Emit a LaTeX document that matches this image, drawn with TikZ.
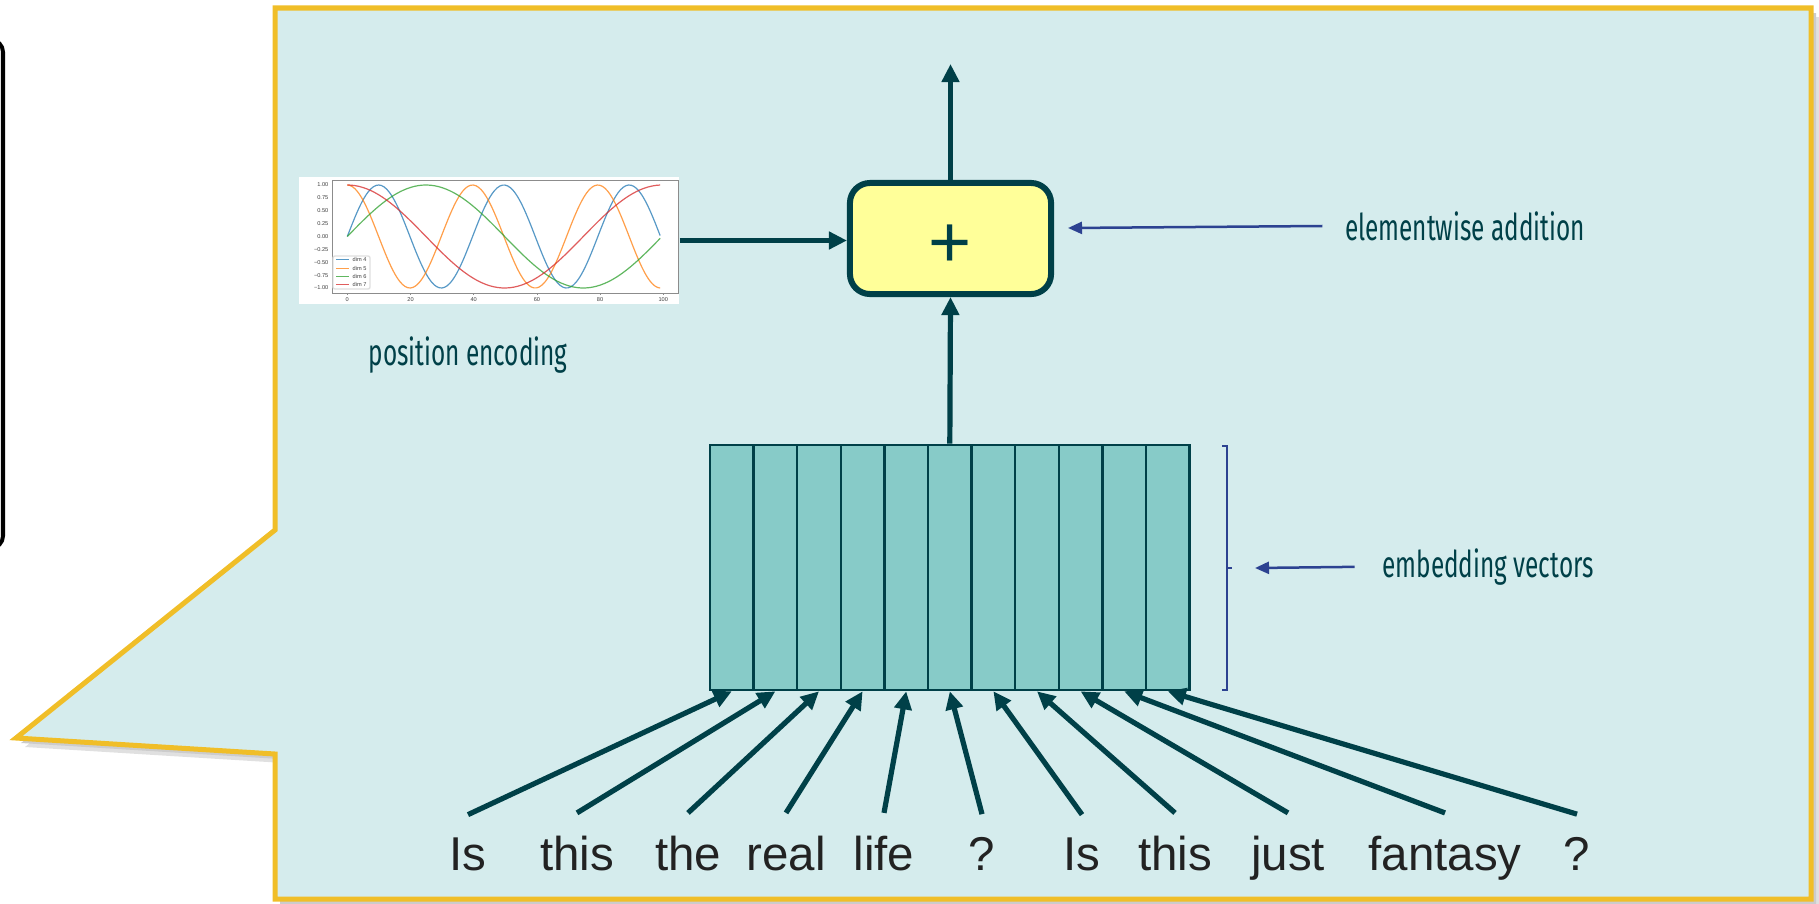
\documentclass[tikz,border=0pt]{standalone}
\usepackage{fontspec}
\setmainfont{Liberation Sans}
\newfontfamily\notefont[FakeStretch=0.66]{Fira Sans}
\usepackage{xcolor}
\definecolor{calloutbg}{RGB}{213,236,237}
\definecolor{calloutrim}{RGB}{240,190,40}
\definecolor{flowteal}{RGB}{0,64,72}
\definecolor{cellfill}{RGB}{135,203,200}
\definecolor{sumfill}{RGB}{255,255,153}
\definecolor{pointerblue}{RGB}{44,66,145}
\definecolor{wordgray}{RGB}{34,34,34}
\definecolor{mplblue}{RGB}{31,119,180}
\definecolor{mplorange}{RGB}{255,127,14}
\definecolor{mplgreen}{RGB}{44,160,44}
\definecolor{mplred}{RGB}{214,39,40}
\usepackage{tikz}
\usetikzlibrary{arrows.meta, positioning, calc}

\begin{document}
\begin{tikzpicture}[x=0.01cm, y=-0.01cm,
  flow/.style={draw=flowteal, line width=0.52mm, -{Triangle[length=1.8mm, width=1.7mm]}},
  pointer/.style={draw=pointerblue, line width=0.25mm, -{Triangle[length=1.4mm, width=1.2mm]}},
  cell/.style={draw=flowteal, line width=0.25mm, fill=cellfill, inner sep=0pt,
    minimum width=0.436cm, minimum height=2.45cm},
  sumbox/.style={draw=flowteal, line width=0.6mm, fill=sumfill, rounded corners=2mm,
    minimum width=2.01cm, minimum height=1.11cm},
  word/.style={font=\fontsize{13.5}{16}\selectfont, text=wordgray, anchor=base, inner sep=0pt},
  note/.style={font=\notefont\fontsize{10.5}{12}\selectfont, text=flowteal, anchor=base, inner sep=0pt},
  axlabel/.style={font=\fontsize{1.6}{2}\selectfont, text=black!75, inner sep=0pt},
  curve/.style={line width=0.12mm, opacity=0.75}]
  \useasboundingbox (0,0) rectangle (1819,903);

  % Frame cut off at the left edge
  \draw[line width=0.4mm, rounded corners=1.2mm] (-60,40) rectangle (3,548);

  % --- Callout ---
  \fill[black!12, shift={(9,9)}]
       (275,8) -- (1811,8) -- (1811,899) -- (275,899) -- (275,754) -- (16,738) -- (275,530) -- cycle;
  \fill[black!20, shift={(5,5)}]
       (275,8) -- (1811,8) -- (1811,899) -- (275,899) -- (275,754) -- (16,738) -- (275,530) -- cycle;
  \draw[fill=calloutbg, draw=calloutrim, line width=0.5mm]
       (275,8) -- (1811,8) -- (1811,899) -- (275,899) -- (275,754) -- (16,738) -- (275,530) -- cycle;

  % --- Position encoding plot ---
  \node[fill=white, inner sep=0pt, minimum width=3.8cm, minimum height=1.27cm] (peplot) at (489,240.5) {};
  \draw[black!45, line width=0.1mm] (332,180) rectangle (678,293);
  \foreach \v/\t in {1/1.00, 0.75/0.75, 0.5/0.50, 0.25/0.25, 0/0.00, -0.25/−0.25, -0.5/−0.50, -0.75/−0.75, -1/−1.00}
    \node[axlabel, anchor=east] at (329,{236.5-51.5*\v}) {\t};
  \foreach \v in {0,20,...,100} {
    \draw[black!45, line width=0.08mm] ({347.3+3.16*\v},293) -- ({347.3+3.16*\v},295);
    \node[axlabel] at ({347.3+3.16*\v},300) {\v};
  }
  \draw[curve, mplblue] plot[domain=0:99, samples=120, smooth] ({347.3+3.16*\x},{236.5-51.5*sin(\x/6.3096 r)});
  \draw[curve, mplorange] plot[domain=0:99, samples=120, smooth] ({347.3+3.16*\x},{236.5-51.5*cos(\x/6.3096 r)});
  \draw[curve, mplgreen] plot[domain=0:99, samples=80, smooth] ({347.3+3.16*\x},{236.5-51.5*sin(\x/15.849 r)});
  \draw[curve, mplred] plot[domain=0:99, samples=80, smooth] ({347.3+3.16*\x},{236.5-51.5*cos(\x/15.849 r)});
  % legend
  \draw[black!12, fill=white, rounded corners=0.2mm] (333,256) rectangle (370,289);
  \foreach \c/\t [count=\k] in {mplblue/dim 4, mplorange/dim 5, mplgreen/dim 6, mplred/dim 7} {
    \draw[curve, \c] (336,{251.5+8.3*\k}) -- (349,{251.5+8.3*\k});
    \node[axlabel, anchor=west] at (352,{251.5+8.3*\k}) {\t};
  }
  \node[note] (pelab) at (468,365) {position encoding};

  % --- Elementwise addition ---
  \node[sumbox] (sum) at (950.5,238.5) {};
  \node[font=\fontsize{21}{24}\selectfont, text=flowteal, inner sep=0pt] (plus) at (950.5,246) {+};
  \coordinate (out) at (950.5,64);
  \draw[flow] (sum.north) -- (out);
  \draw[flow] (peplot.east) -- (peplot.east -| sum.west);
  \node[note] (addlab) at (1465,240) {elementwise addition};
  \coordinate (addtip) at (1068,228);
  \draw[pointer, shorten <=2.2mm] (addlab.west) -- (addtip);

  % --- Embedding vectors ---
  \foreach \i in {1,...,11}
    \node[cell] (c\i) at ({710+43.6*(\i-0.5)},567.5) {};
  \draw[flow] (c6.north) -- (sum.south);
  \draw[pointerblue, line width=0.2mm] (1222,446) -- (1227,446) -- (1227,690) -- (1222,690);
  \draw[pointerblue, line width=0.2mm] (1227,568) -- (1232,568);
  \node[note] (emblab) at (1488,577) {embedding vectors};
  \coordinate (embtip) at (1255,568);
  \draw[pointer, shorten <=2.7mm] (emblab.west) -- (embtip);

  % --- Input words ---
  \foreach \tok/\xx [count=\i] in {Is/468, this/577, the/688, real/786, life/884, ?/982,
                                   Is/1082, this/1175, just/1288, fantasy/1445, ?/1577}
    \node[word] (w\i) at (\xx,870) {\tok};
  \foreach \i in {1,...,11}
    \draw[flow] ([yshift=2.2mm]w\i.north) -- (c\i.south);
\end{tikzpicture}
\end{document}
